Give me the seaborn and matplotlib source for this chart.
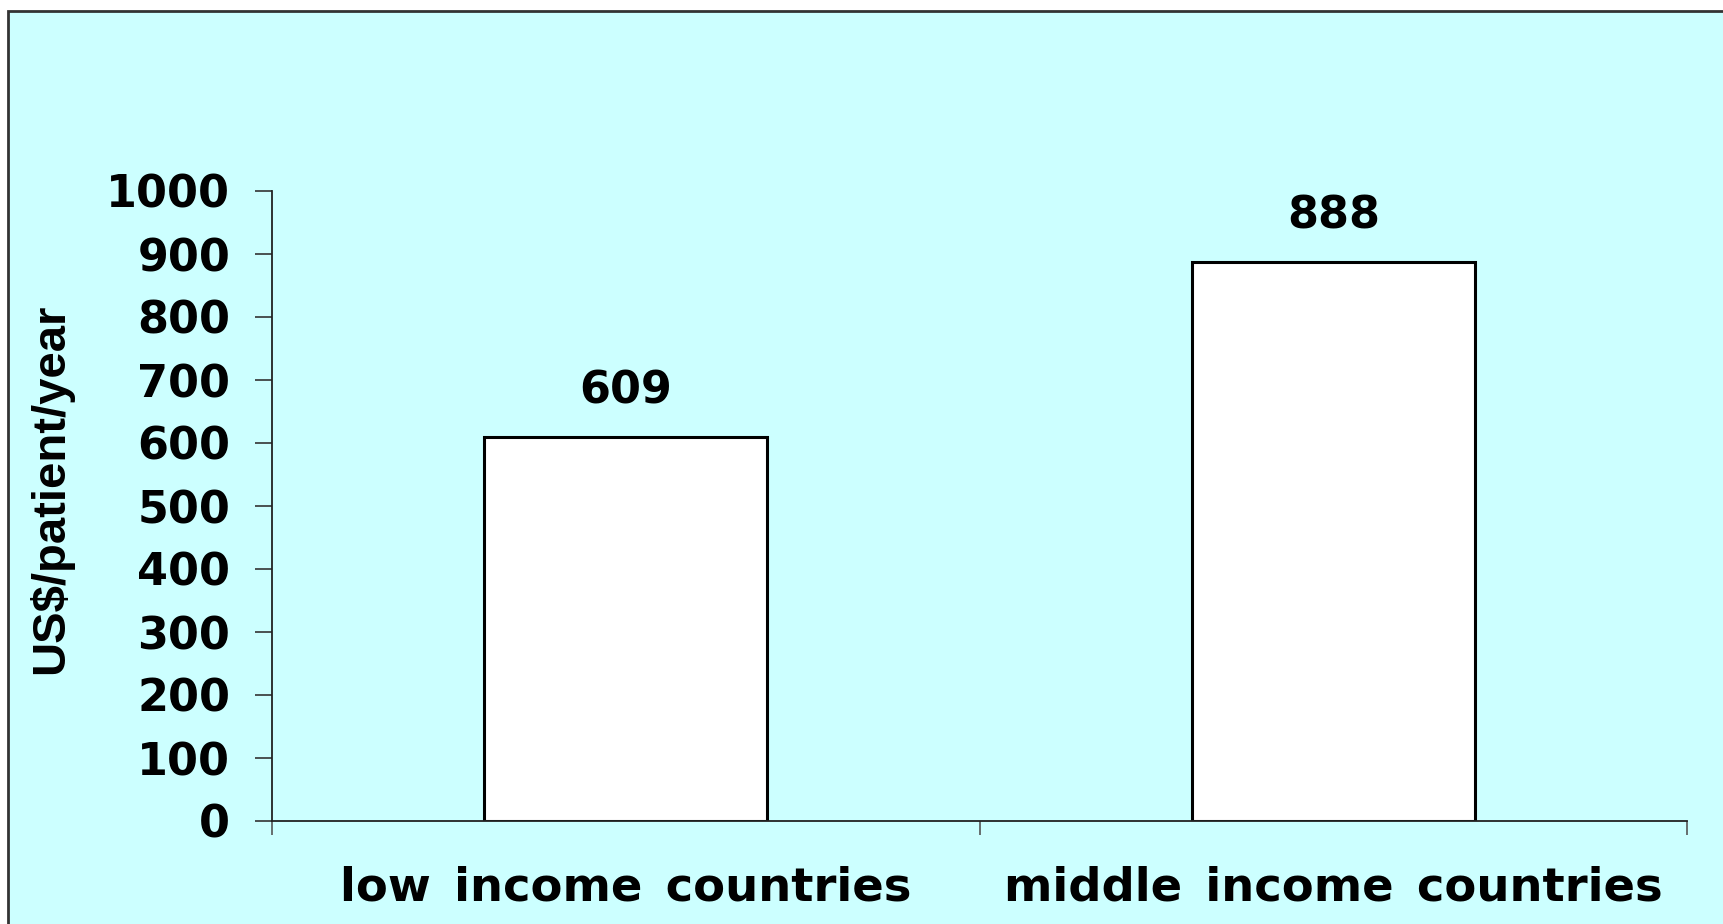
import matplotlib
matplotlib.use("Agg")
import matplotlib.pyplot as plt
import pandas as pd
import seaborn as sns
from matplotlib.patches import Rectangle

CATEGORIES = ["low income countries", "middle income countries"]
VALUES = [609, 888]
Y_TICKS = [0, 100, 200, 300, 400, 500, 600, 700, 800, 900, 1000]

sns.set_theme(style="white")
plt.rcParams["font.family"] = ["DejaVu Sans"]
plt.rcParams["text.color"] = "black"
plt.rcParams["xtick.labelcolor"] = "black"
plt.rcParams["ytick.labelcolor"] = "black"
plt.rcParams["axes.labelcolor"] = "black"

BG = "#CCFFFF"

df = pd.DataFrame({"category": CATEGORIES, "value": VALUES})

fig = plt.figure(figsize=(17.23, 9.24), dpi=100, facecolor="white")
# chart area panel with border
fig.patches.append(
    Rectangle((8 / 1723, -0.05), 1.1, 1 - 11 / 924 + 0.05, transform=fig.transFigure,
              facecolor=BG, edgecolor="#333333", linewidth=2, zorder=-5)
)

ax = fig.add_axes([272 / 1723, 1 - 821 / 924, (1687 - 272) / 1723, (821 - 191) / 924])
ax.set_facecolor("none")
ax.set_zorder(2)

sns.barplot(data=df, x="category", y="value", ax=ax, color="white",
            edgecolor="black", linewidth=2.2, width=0.4, saturation=1)

ax.set_xlim(-0.5, 1.5)
ax.set_ylim(0, 1000)
ax.set_yticks(Y_TICKS)
ax.set_yticklabels([str(t) for t in Y_TICKS], fontsize=32, fontweight="bold")
ax.tick_params(axis="y", left=True, length=12, width=1.2, color="#333333", pad=18)

ax.set_xticks([0, 1])
# en space between words, the original has wide word gaps
ax.set_xticklabels([c.replace(" ", "\u2002") for c in CATEGORIES], fontsize=33.5, fontweight="bold")
ax.tick_params(axis="x", which="major", length=0, pad=32)
ax.set_xticks([-0.5, 0.5, 1.5], minor=True)
ax.tick_params(axis="x", which="minor", bottom=True, length=10, width=1.2, color="#555555")

for s in ["top", "right"]:
    ax.spines[s].set_visible(False)
for s in ["left", "bottom"]:
    ax.spines[s].set_color("#222222")
    ax.spines[s].set_linewidth(1.3)

ax.set_xlabel("")
ax.set_ylabel("US$/patient/year", fontsize=34, fontweight="bold",
              family=["Liberation Sans", "DejaVu Sans"])
ax.yaxis.set_label_coords(-0.1406, 0.527)

for i, v in enumerate(VALUES):
    ax.annotate(str(v), (i, v), xytext=(0, 33), textcoords="offset points",
                ha="center", va="center", fontsize=32, fontweight="bold")

fig.savefig("out.png", dpi=100, facecolor=fig.get_facecolor())
